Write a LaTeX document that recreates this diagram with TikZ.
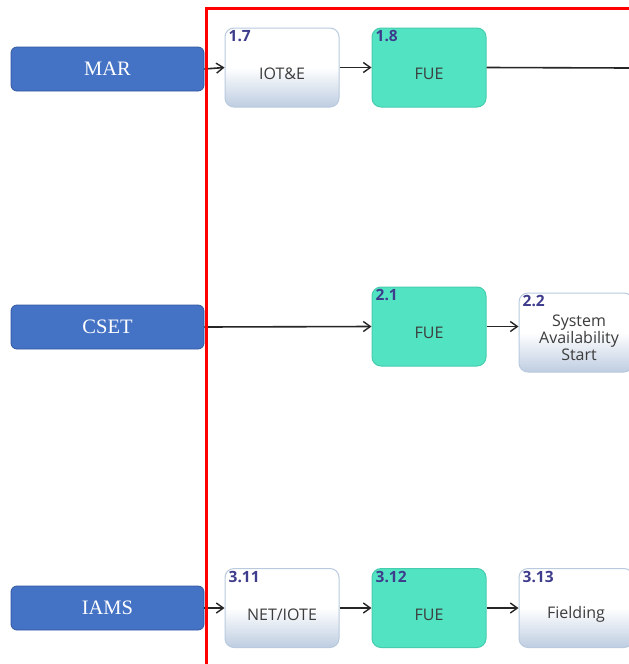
\documentclass[tikz,border=0pt]{standalone}
\usepackage{fontspec}
\setmainfont{Liberation Serif}
\newfontfamily\boxfont{Open Sans}
\usetikzlibrary{arrows.meta}
\definecolor{bluebox}{RGB}{68,114,196}
\definecolor{blueline}{RGB}{52,88,160}
\definecolor{tealbox}{RGB}{82,228,194}
\definecolor{tealline}{RGB}{70,205,175}
\definecolor{paleline}{RGB}{185,202,222}
\definecolor{palebot}{RGB}{190,205,225}
\definecolor{numcol}{RGB}{62,60,140}
\definecolor{labcol}{RGB}{60,60,60}
\tikzset{
  srcbox/.style={draw=blueline, fill=bluebox, rounded corners=6pt, line width=0.8pt,
    minimum width=193pt, minimum height=44pt, inner sep=0pt,
    text=white, font=\fontsize{20.5}{20.5}\selectfont},
  stepbase/.style={rounded corners=9pt, line width=1pt,
    minimum width=114pt, minimum height=79pt, inner sep=0pt},
  palebox/.style={stepbase, draw=paleline, top color=white, bottom color=palebot, middle color=white},
  greenbox/.style={stepbase, draw=tealline, fill=tealbox},
  num/.style={anchor=north west, inner sep=0pt, xshift=4pt, yshift=-3pt,
    text=numcol, font=\boxfont\bfseries\fontsize{15.5}{15.5}\selectfont},
  lab/.style={anchor=center, inner sep=0pt, yshift=-6.5pt, align=center,
    text=labcol, font=\boxfont\fontsize{16}{17}\selectfont},
  conn/.style={draw=black!85, line width=1.6pt, -{Straight Barb[length=7pt,width=10pt,line width=1.4pt]}},
  plainconn/.style={draw=black!85, line width=1.6pt}
}
\begin{document}
\begin{tikzpicture}[x=1pt,y=-1pt]
\clip (0,0) rectangle (629,664);
\fill[white] (0,0) rectangle (629,664);
% source boxes
\node[srcbox] (mar) at (107.5,69) {MAR};
\node[srcbox] (cset) at (107.5,327) {CSET};
\node[srcbox] (iams) at (107.5,608) {IAMS};
% row 1
\node[palebox, label={[num]north west:1.7}, label={[lab]center:IOT\&E}] (n17) at (282,67.5) {};
\node[greenbox, label={[num]north west:1.8}, label={[lab]center:FUE}] (n18) at (429,67.5) {};
\coordinate (r1end) at (629,68);
% row 2
\node[greenbox, label={[num]north west:2.1}, label={[lab]center:FUE}] (n21) at (429,326.5) {};
\node[palebox, label={[num]north west:2.2}, label={[lab, yshift=1pt, xshift=3pt]center:System\\Availability\\Start}] (n22) at (576,332.5) {};
% row 3
\node[palebox, label={[num]north west:3.11}, label={[lab]center:NET/IOTE}] (n311) at (282,608) {};
\node[greenbox, label={[num]north west:3.12}, label={[lab]center:FUE}] (n312) at (429,608) {};
\node[palebox, label={[num]north west:3.13}, label={[lab]center:Fielding}] (n313) at (576,608) {};
% connectors
\draw[conn] (mar.east) -- (n17.west);
\draw[conn] (n17.east) -- (n18.west);
\draw[plainconn] (n18.east) -- (r1end);
\draw[conn] (cset.east) -- (n21.west);
\draw[conn] (n21.east) -- (n21.east -| n22.west);
\draw[conn] (iams.east) -- (n311.west);
\draw[conn] (n311.east) -- (n312.west);
\draw[conn] (n312.east) -- (n313.west);
% red frame
\coordinate (fb) at (206.5,664);
\coordinate (ftl) at (206.5,8.5);
\coordinate (ftr) at (629,8.5);
\draw[red, line width=2.4pt] (fb) -- (ftl) -- (ftr);
\end{tikzpicture}
\end{document}
